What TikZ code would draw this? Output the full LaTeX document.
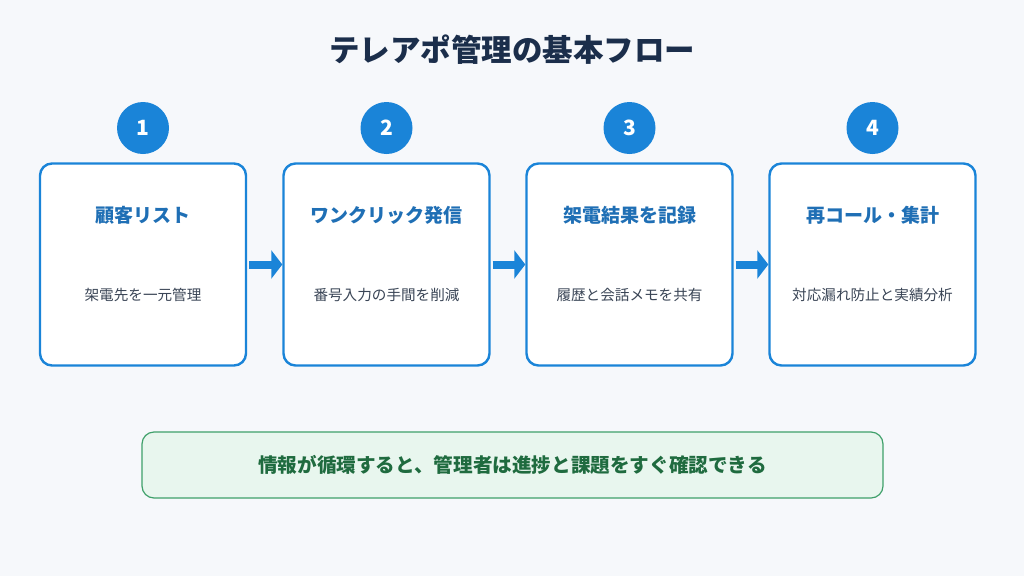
\documentclass[tikz,border=0pt]{standalone}
\usepackage{fontspec}
\setmainfont{Noto Sans CJK JP}
\usetikzlibrary{arrows.meta}
\definecolor{bgc}{HTML}{F6F8FB}
\definecolor{navy}{HTML}{1B2E4B}
\definecolor{bluec}{HTML}{1A84D8}
\definecolor{titleblue}{HTML}{1F6FB5}
\definecolor{subgray}{HTML}{3A4556}
\definecolor{greenfill}{HTML}{E8F6EE}
\definecolor{greenline}{HTML}{3FA06A}
\definecolor{greentext}{HTML}{1F6B3F}
\tikzset{
  stepcard/.style={draw=bluec, line width=2.4pt, fill=white, rounded corners=12pt,
    minimum width=206pt, minimum height=202pt, inner sep=0pt},
  numdot/.style={circle, fill=bluec, minimum size=52pt, inner sep=0pt,
    text=white, font=\fontsize{21}{25}\selectfont\bfseries},
  cardtitle/.style={text=titleblue, font=\fontsize{19}{23}\selectfont\bfseries},
  cardsub/.style={text=subgray, font=\fontsize{14.6}{18}\selectfont},
  flowarrow/.style={draw=bluec, line width=8pt, -{Triangle[length=11pt,width=28pt]}},
  notebox/.style={draw=greenline, line width=1.2pt, fill=greenfill, rounded corners=12pt,
    minimum width=741pt, minimum height=66pt, inner sep=0pt,
    text=greentext, font=\fontsize{19.6}{23}\selectfont\bfseries},
}
\begin{document}
\begin{tikzpicture}[x=1pt,y=-1pt]
\fill[bgc] (0,0) rectangle (1024,576);
\useasboundingbox (0,0) rectangle (1024,576);
\node[text=navy, font=\fontsize{30.5}{35}\selectfont\bfseries] (title) at (512,50) {テレアポ管理の基本フロー};

\node[stepcard] (c1) at (143,264.5) {};
\node[stepcard] (c2) at (386.5,264.5) {};
\node[stepcard] (c3) at (629.5,264.5) {};
\node[stepcard] (c4) at (872.5,264.5) {};

\node[numdot] (n1) at (143,128) {1};
\node[numdot] (n2) at (386.5,128) {2};
\node[numdot] (n3) at (629.5,128) {3};
\node[numdot] (n4) at (872.5,128) {4};

\node[cardtitle] (t1) at (143,215) {顧客リスト};
\node[cardtitle] (t2) at (386.5,215) {ワンクリック発信};
\node[cardtitle] (t3) at (629.5,215) {架電結果を記録};
\node[cardtitle] (t4) at (872.5,215) {再コール・集計};

\node[cardsub] (s1) at (143,295) {架電先を一元管理};
\node[cardsub] (s2) at (386.5,295) {番号入力の手間を削減};
\node[cardsub] (s3) at (629.5,295) {履歴と会話メモを共有};
\node[cardsub] (s4) at (872.5,295) {対応漏れ防止と実績分析};

\draw[flowarrow] ([xshift=2pt]c1.east) -- (c2.west);
\draw[flowarrow] ([xshift=2pt]c2.east) -- (c3.west);
\draw[flowarrow] ([xshift=2pt]c3.east) -- (c4.west);

\node[notebox] (note) at (512.5,465) {情報が循環すると、管理者は進捗と課題をすぐ確認できる};
\end{tikzpicture}
\end{document}
